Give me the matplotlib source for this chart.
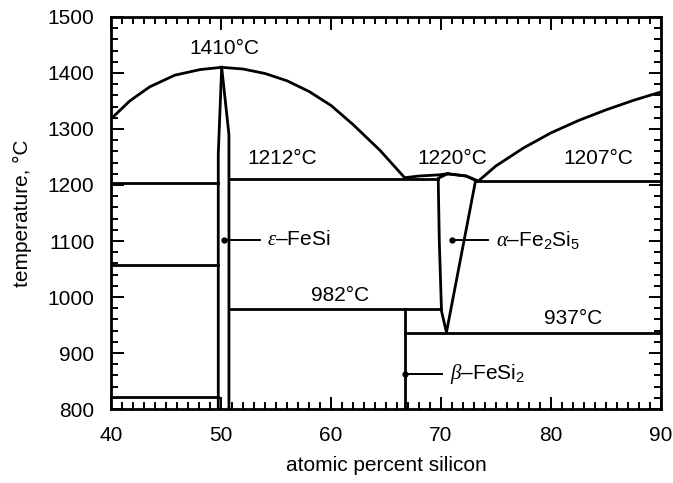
import matplotlib.pyplot as plt
from matplotlib.ticker import MultipleLocator

plt.rcParams['font.family'] = ['Liberation Sans', 'DejaVu Sans']
plt.rcParams['mathtext.fontset'] = 'custom'
plt.rcParams['mathtext.rm'] = 'Liberation Sans'
plt.rcParams['mathtext.it'] = 'Liberation Serif:italic'

# liquidus, left dome (Fe-rich side up to the FeSi maximum)
liq_left_x = [40, 41.7, 43.5, 45.8, 48.1, 50.06]
liq_left_t = [1318, 1350, 1375, 1396, 1406, 1410]
# liquidus, from the FeSi maximum down to the 1212 eutectic
liq_mid_x = [50.06, 52, 54, 56, 58, 60, 62, 64.45, 66.7]
liq_mid_t = [1410, 1407, 1399, 1386, 1367, 1342, 1308, 1262, 1213]
# liquidus over alpha-Fe2Si5
liq_alpha_x = [66.7, 68, 69.75, 70.6, 72.3, 73.4]
liq_alpha_t = [1213, 1216, 1218, 1220, 1216, 1207]
# liquidus, Si-rich side
liq_right_x = [73.4, 75, 77.5, 80, 82.5, 85, 87.5, 90]
liq_right_t = [1207, 1234, 1266, 1293, 1315, 1334, 1351, 1366]

# epsilon-FeSi boundaries
eps_left_x = [50.06, 49.75, 49.75]
eps_left_t = [1410, 1255, 800]
eps_right_x = [50.06, 50.72, 50.72]
eps_right_t = [1410, 1290, 800]

# alpha-Fe2Si5 field
alpha_x = [70.6, 69.75, 69.85, 70.05, 70.5, 73.15, 72.3, 70.6]
alpha_t = [1220, 1212, 1100, 975, 937, 1208, 1216, 1220]

# beta-FeSi2 line compound
beta_x = [66.75, 66.75]
beta_t = [800, 979]

# horizontal invariant lines: (x0, x1, T)
invariants = [
    (40, 49.75, 1203),
    (40, 49.75, 1058),
    (40, 49.75, 822),
    (50.72, 69.75, 1211),
    (73.15, 90, 1207),
    (50.72, 70.05, 979),
    (66.75, 90, 936),
]

temp_labels = ['1410°C', '1212°C', '1220°C', '1207°C', '982°C', '937°C']
temp_label_x = [50.3, 55.6, 71.0, 84.3, 60.8, 82.0]
temp_label_t = [1443, 1248, 1248, 1248, 1003, 961]

phase_labels = [r'$\varepsilon$–FeSi', r'$\alpha$–Fe$_\mathrm{2}$Si$_\mathrm{5}$',
                r'$\beta$–FeSi$_\mathrm{2}$']
phase_dot_x = [50.3, 71.05, 66.75]
phase_dot_t = [1102, 1101, 862]
phase_line_end = [53.5, 74.3, 70.1]

fs = 15

fig = plt.figure(figsize=(6.73, 4.83), dpi=100)
ax = fig.add_axes([0.165, 0.153, 0.817, 0.812])

lw = 2.0
ax.plot(liq_left_x, liq_left_t, color='black', lw=lw)
ax.plot(liq_mid_x, liq_mid_t, color='black', lw=lw)
ax.plot(liq_alpha_x, liq_alpha_t, color='black', lw=lw)
ax.plot(liq_right_x, liq_right_t, color='black', lw=lw)
ax.plot(eps_left_x, eps_left_t, color='black', lw=lw)
ax.plot(eps_right_x, eps_right_t, color='black', lw=lw)
ax.plot(alpha_x, alpha_t, color='black', lw=lw)
ax.plot(beta_x, beta_t, color='black', lw=lw)
for x0, x1, t in invariants:
    ax.plot([x0, x1], [t, t], color='black', lw=lw)

for s, x, t in zip(temp_labels, temp_label_x, temp_label_t):
    ax.text(x, t, s, fontsize=fs, ha='center', va='center')

for s, x, t, xe in zip(phase_labels, phase_dot_x, phase_dot_t, phase_line_end):
    ax.plot([x, xe], [t, t], color='black', lw=1.4)
    ax.plot(x, t, 'o', color='black', ms=3.5)
    ax.text(xe + 0.7, t, s, fontsize=fs, ha='left', va='center')

ax.set_xlim(40, 90)
ax.set_ylim(800, 1500)
ax.xaxis.set_major_locator(MultipleLocator(10))
ax.xaxis.set_minor_locator(MultipleLocator(1))
ax.yaxis.set_major_locator(MultipleLocator(100))
ax.yaxis.set_minor_locator(MultipleLocator(20))
ax.tick_params(which='both', direction='in', top=True, right=True, width=1.4, labelsize=fs)
ax.tick_params(which='major', length=9, pad=12)
ax.tick_params(which='minor', length=5)
for sp in ax.spines.values():
    sp.set_linewidth(2.0)

ax.set_xlabel('atomic percent silicon', fontsize=fs, labelpad=8)
ax.set_ylabel('temperature, °C', fontsize=fs, labelpad=11)

fig.savefig('out.png', dpi=100)
